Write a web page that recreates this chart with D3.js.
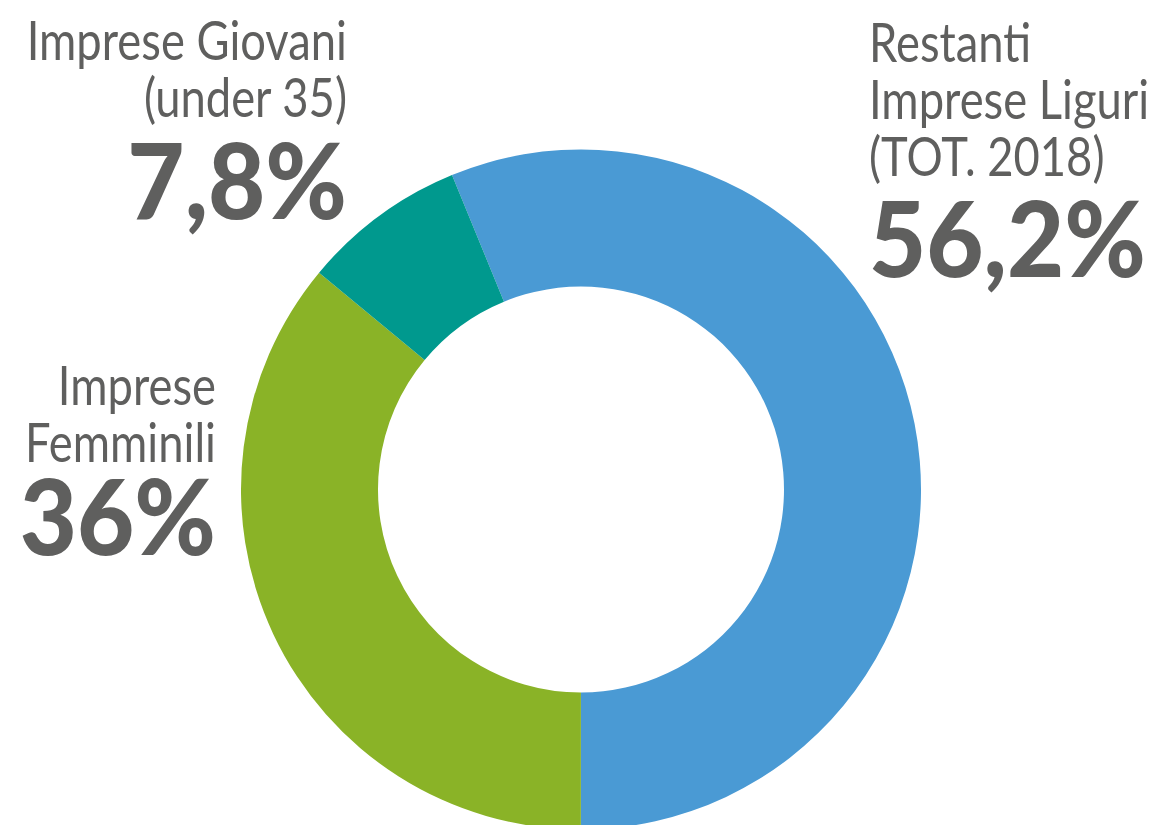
<!DOCTYPE html>
<html lang="it">
  <head>
    <meta charset="UTF-8" />
    <title>Imprese Liguri</title>
    <script src="https://cdn.jsdelivr.net/npm/d3@7"></script>
    <style>
      html,
      body {
        margin: 0;
        background: #fff;
      }
      text {
        font-family: 'Lato', sans-serif;
        fill: #5f5f5e;
      }
      .name {
        font-weight: 400;
        font-size: 54px;
      }
      .pct {
        font-weight: 900;
        font-size: 104px;
      }
    </style>
  </head>
  <body>
    <div id="chart"></div>
    <script>
      // data
      const categories = ['Restanti Imprese Liguri', 'Imprese Femminili', 'Imprese Giovani'];
      const values = [56.2, 36, 7.8];
      const colors = ['#4a9ad4', '#8ab327', '#00998e'];
      const labelLines = [
        ['Restanti', 'Imprese Liguri', '(TOT. 2018)'],
        ['Imprese', 'Femminili'],
        ['Imprese Giovani', '(under 35)'],
      ];

      const options = {
        width: 1154,
        height: 825,
        cx: 581,
        cy: 489.5,
        outer: 340,
        inner: 203,
        lineGap: 57,
        nameSquash: 0.84, // the original face is a condensed one
        pctSquash: 0.95,
      };

      // where each label block sits (x, first baseline, anchor)
      const labelPos = [
        { x: 869, y: 62, anchor: 'start', pctGap: 101 },
        { x: 216, y: 405, anchor: 'end', pctGap: 93 },
        { x: 347, y: 60, anchor: 'end', pctGap: 102 },
      ];

      const svg = d3
        .select('#chart')
        .append('svg')
        .attr('width', options.width)
        .attr('height', options.height);

      const start = (-22.3 * Math.PI) / 180;
      const pie = d3
        .pie()
        .sort(null)
        .startAngle(start)
        .endAngle(start + 2 * Math.PI);

      const arc = d3.arc().innerRadius(options.inner).outerRadius(options.outer);

      svg
        .append('g')
        .attr('transform', `translate(${options.cx},${options.cy})`)
        .selectAll('path')
        .data(pie(values))
        .join('path')
        .attr('d', arc)
        .attr('fill', (d, i) => colors[i]);

      const fmt = (v) => String(v).replace('.', ',') + '%';

      categories.forEach((c, i) => {
        const p = labelPos[i];
        const lines = labelLines[i];
        const g = svg
          .append('g')
          .attr('text-anchor', p.anchor)
          .attr('transform', `translate(${p.x},0)`);
        g.append('g')
          .attr('transform', `scale(${options.nameSquash},1)`)
          .selectAll('text')
          .data(lines)
          .join('text')
          .attr('class', 'name')
          .attr('y', (d, j) => p.y + j * options.lineGap)
          .text((d) => d);
        g.append('text')
          .attr('class', 'pct')
          .attr('transform', `scale(${options.pctSquash},1)`)
          .attr('y', p.y + (lines.length - 1) * options.lineGap + p.pctGap)
          .text(fmt(values[i]));
      });
    </script>
  </body>
</html>
